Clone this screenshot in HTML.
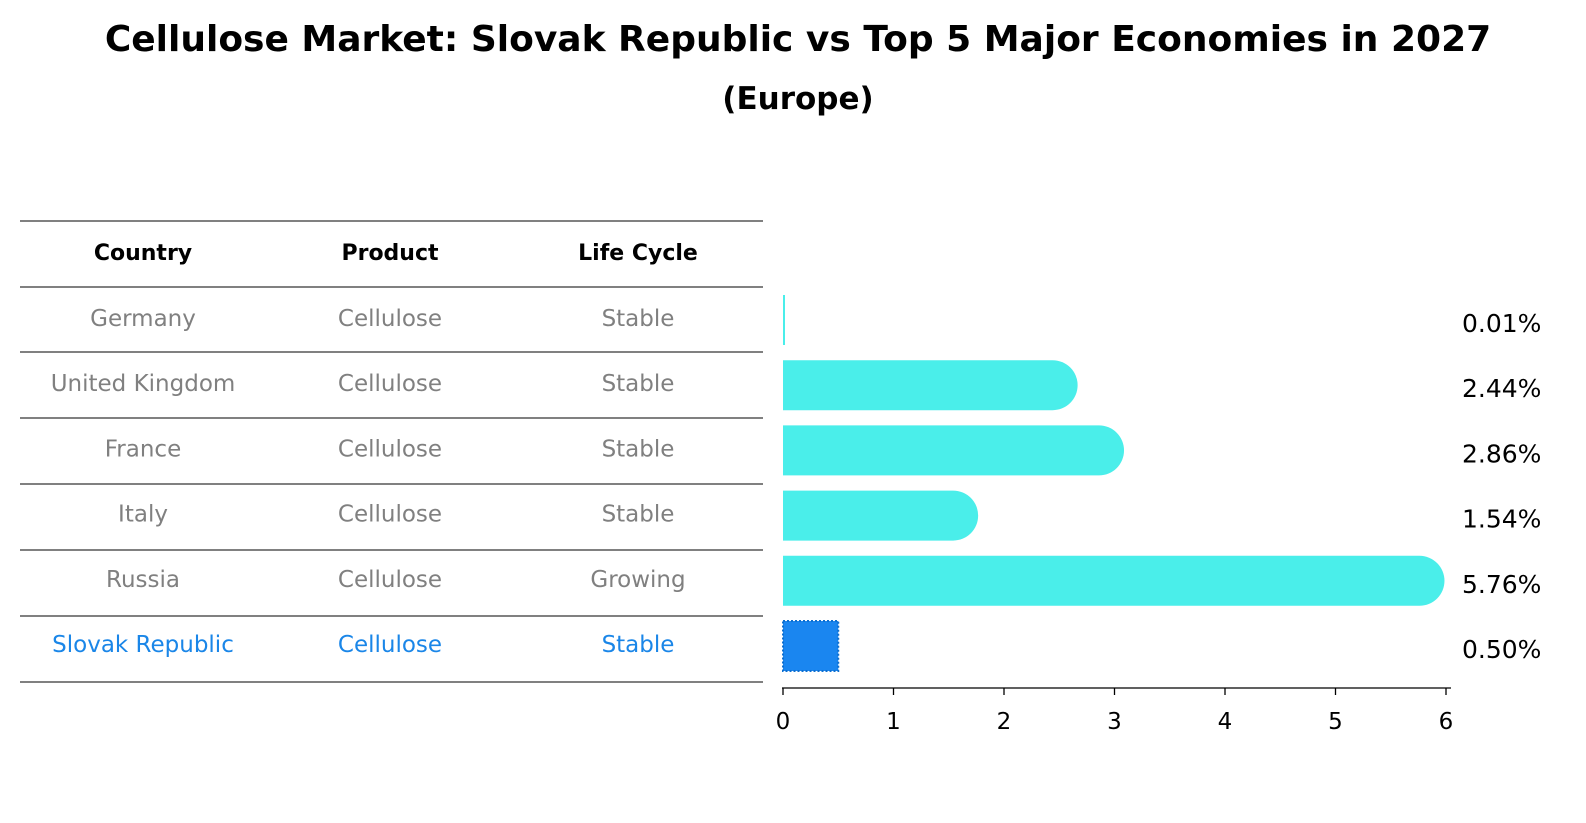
<!DOCTYPE html>
<html><head><meta charset="utf-8"><style>
body{margin:0;background:#fff;font-family:"Liberation Sans","DejaVu Sans",sans-serif;overflow:hidden;}
svg{display:block;}
svg text{font-family:"DejaVu Sans","Liberation Sans",sans-serif;}
</style></head><body>
<svg id="c" width="1586" height="823" xmlns="http://www.w3.org/2000/svg">
<text x="798" y="51" text-anchor="middle" font-size="36" font-weight="bold">Cellulose Market: Slovak Republic vs Top 5 Major Economies in 2027</text>
<text x="798" y="109" text-anchor="middle" font-size="31" font-weight="bold">(Europe)</text>
<g id="table"></g>
<g id="bars"></g>
</svg>
<script>
const countries=["Germany","United Kingdom","France","Italy","Russia","Slovak Republic"];
const products=["Cellulose","Cellulose","Cellulose","Cellulose","Cellulose","Cellulose"];
const lifeCycles=["Stable","Stable","Stable","Stable","Growing","Stable"];
const values=[0.01,2.44,2.86,1.54,5.76,0.50];
const ticks=[0,1,2,3,4,5,6];
const NS="http://www.w3.org/2000/svg";
function mk(t,a,p){const e=document.createElementNS(NS,t);for(const k in a)e.setAttribute(k,a[k]);p.appendChild(e);return e;}
const tb=document.getElementById('table'),bg=document.getElementById('bars');
const x=v=>783+v*110.5;
const rowY=i=>320+i*65.2;
const lineYs=[221,287,352,418,484,550,616,682];
lineYs.forEach(y=>{const l=mk('line',{x1:20,x2:763,y1:y,y2:y,stroke:'#000','stroke-width':1},tb);

});
const cx=[143,390,638];
["Country","Product","Life Cycle"].forEach((h,j)=>{const t=mk('text',{x:cx[j],y:260,'text-anchor':'middle','font-size':22,'font-weight':'bold'},tb);t.textContent=h;

});
countries.forEach((c,i)=>{
 const hl=i===countries.length-1;const col=hl?'#1a86e8':'#808080';
 [c,products[i],lifeCycles[i]].forEach((s,j)=>{const t=mk('text',{x:cx[j],y:rowY(i)+6,'text-anchor':'middle','font-size':23,fill:col},tb);t.textContent=s;
 
 });
 const y0=rowY(i)-25,h=50,v=values[i];
 if(hl){const r=mk('rect',{x:x(0),y:y0,width:x(v)-x(0),height:h,fill:'#1a86f0',stroke:'#0d6fd0','stroke-width':2,'stroke-dasharray':'2,2'},bg);
  
  }
 else if(v<0.05){const r=mk('rect',{x:x(0),y:y0,width:Math.max(2,x(v)-x(0)),height:h,fill:'#4aeeea'},bg);
  
  }
 else{const w=x(v)-x(0);const p=mk('path',{d:`M${x(0)},${y0}h${w}a25,25 0 0 1 0,50h${-w}z`,fill:'#4aeeea'},bg);
  
  }
 const t=mk('text',{x:1462,y:rowY(i)+12,'font-size':25},bg);t.textContent=v.toFixed(2)+'%';
 
 
});
const ax=mk('line',{x1:782,x2:1451,y1:688,y2:688,stroke:'#000','stroke-width':1.3},bg);


ticks.forEach(v=>{const l=mk('line',{x1:x(v),x2:x(v),y1:688,y2:695,stroke:'#000','stroke-width':1.3},bg);


const t=mk('text',{x:x(v),y:729,'text-anchor':'middle','font-size':23},bg);t.textContent=v;

});
</script>
</body></html>
